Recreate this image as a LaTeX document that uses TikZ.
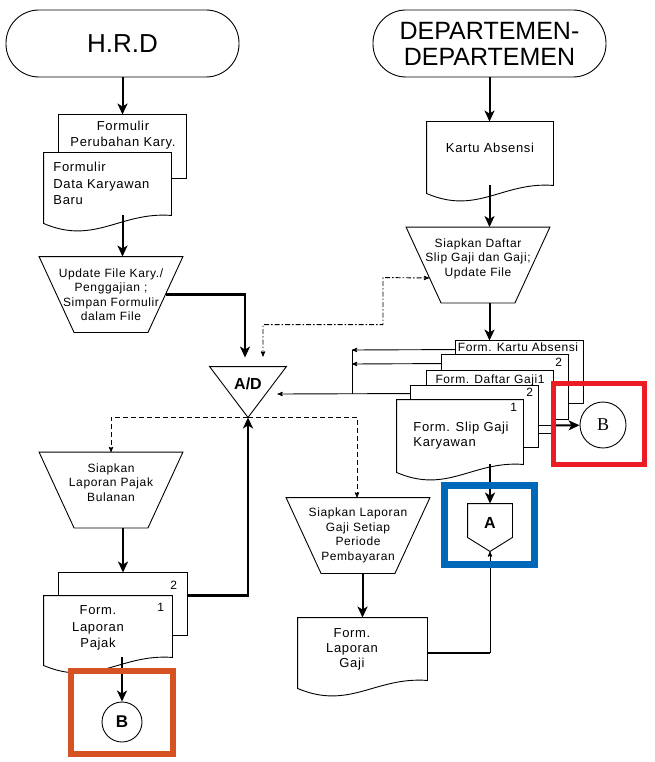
\documentclass[tikz,border=0pt]{standalone}
\usepackage{fontspec}
\setmainfont{Liberation Sans}
\newfontfamily\flowsans{Liberation Sans}[LetterSpace=5]
\newfontfamily\timesfont{Liberation Serif}
\usepackage{tikz}
\usetikzlibrary{arrows,arrows.meta,calc,positioning}
\usepackage{xcolor}
\definecolor{markred}{RGB}{236,28,36}
\definecolor{markblue}{RGB}{0,104,185}
\definecolor{markorange}{RGB}{214,82,34}

\newcommand{\docfont}[1]{\flowsans\fontsize{13}{#1}\selectfont}
\newcommand{\docrect}[1]{\draw[fill=white] (#1.north west) rectangle (#1.south east);}
\newcommand{\docwave}[1]{\draw[fill=white] (#1.south east) -- (#1.north east) -- (#1.north west)
  -- ($(#1.south west)+(0,8)$) .. controls ($(#1.south west)!0.4!(#1.south east)+(0,30)$)
  and ($(#1.south east)!0.4!(#1.south west)+(0,-4)$) .. (#1.south east) -- cycle;}
\newcommand{\trapshape}[1]{\draw (#1.north west) -- (#1.north east) -- ([xshift=-35pt]#1.south east)
  -- ([xshift=35pt]#1.south west) -- cycle;}
\newcommand{\mergeshape}[1]{\draw (#1.north west) -- (#1.north east) -- (#1.south) -- cycle;}
\newcommand{\offpageshape}[1]{\draw (#1.north west) -- (#1.north east) -- ([yshift=14pt]#1.south east)
  -- (#1.south) -- ([yshift=14pt]#1.south west) -- cycle;}

\begin{document}
\begin{tikzpicture}[x=1pt,y=-1pt,>=stealth',line width=0.9pt]
\tikzset{
    term/.style={%
        draw,
        rectangle,
        rounded corners=33pt,
        minimum height=67pt,
        minimum width=233pt,
        inner sep=0pt
        },
    proc/.style={%
        rectangle,
        minimum height=75pt,
        minimum width=143pt,
        text width=130pt,
        inner sep=0pt,
        align=center,
        font=\flowsans\fontsize{12}{14.5}\selectfont
        },
    docbox/.style={%
        rectangle,
        inner sep=0pt,
        minimum height=62pt,
        minimum width=127pt
        },
    txt/.style={inner sep=0pt, align=center, font=\docfont{16.5}},
    num/.style={inner sep=0pt, font=\flowsans\fontsize{12}{14}\selectfont},
    flow/.style={-{Stealth[length=11pt,width=10pt,inset=3pt]}, line width=2pt},
    link/.style={->, line width=0.9pt},
    dashdot/.style={dash pattern=on 5pt off 2pt on 1.5pt off 2pt},
}
\fill[white] (0,0) rectangle (654,762);
%%%TERMINATORS
\node[term, font=\fontsize{26}{30}\selectfont] (hrd) at (122.5,43.5) {H.R.D};
\node[term, align=center, font=\fontsize{25}{26}\selectfont] (dept) at (489.5,43.5) {DEPARTEMEN-\\DEPARTEMEN};
%%%PROCESSES
\node[proc] (upd) at (111,294.5) {Update File Kary./\\Penggajian ;\\Simpan Formulir\\dalam File};
\node[proc, text depth=44pt] (sdg) at (478,265) {Siapkan Daftar\\Slip Gaji dan Gaji;\\Update File};
\node[proc, text depth=44pt] (spb) at (111,490) {Siapkan\\Laporan Pajak\\Bulanan};
\node[proc] (slg) at (358,535.5) {Siapkan Laporan\\Gaji Setiap\\Periode\\Pembayaran};
\trapshape{upd}
\trapshape{sdg}
\trapshape{spb}
\trapshape{slg}
\node[rectangle, inner sep=4pt, minimum width=76pt, minimum height=50pt, text height=18pt,
  text depth=24pt, font=\bfseries\fontsize{16}{18}\selectfont] (ad) at (248,392) {A/D};
\mergeshape{ad}
\node[rectangle, inner sep=0pt, minimum width=44pt, minimum height=47pt, text height=24pt,
  text depth=23pt, font=\bfseries\fontsize{16}{18}\selectfont] (ca) at (490,527.5) {A};
\offpageshape{ca}
\node[draw, circle, minimum size=40pt, inner sep=0pt, font=\bfseries\fontsize{17}{20}\selectfont] (bl) at (122,722) {B};
\node[draw, circle, minimum size=46pt, inner sep=0pt, font=\timesfont\fontsize{18}{20}\selectfont] (br) at (603,425) {B};
%%%DOCUMENTS
\node[docbox, minimum height=63pt] (fpk) at (122.5,146.5) {};
\node[docbox] (fdk) at (107.5,184) {};
\node[docbox, minimum width=128pt] (flp2) at (123,604) {};
\node[docbox, minimum width=128pt, minimum height=61pt] (flp) at (108,626.5) {};
\node[docbox, minimum width=126pt, minimum height=63pt] (ka) at (490,153.5) {};
\node[docbox] (fka) at (519.5,372) {};
\node[docbox, minimum width=126pt, minimum height=64pt] (fka2) at (505,387) {};
\node[docbox, minimum width=126pt] (fdg) at (490,402) {};
\node[docbox, minimum height=61pt] (fdg2) at (474.5,416.5) {};
\node[docbox, minimum width=126pt, minimum height=64pt] (fsg) at (460,432) {};
\node[docbox, minimum width=129pt] (flg) at (362.5,649) {};
\docrect{fpk}
\docwave{fdk}
\docrect{flp2}
\docwave{flp}
\docwave{ka}
\docrect{fka}
\docrect{fka2}
\docrect{fdg}
\docrect{fdg2}
\docwave{fsg}
\docwave{flg}
\node[txt, font=\docfont{16}] (fpk-t) at (123,135) {Formulir\\Perubahan Kary.};
\node[txt, align=left, anchor=west] (fdk-t) at (53,183.5) {Formulir\\Data Karyawan\\Baru};
\node[txt] (flp-t) at (98,628) {Form.\\Laporan\\Pajak};
\node[txt] (ka-t) at (490,148) {Kartu Absensi};
\node[txt, font=\flowsans\fontsize{12}{14}\selectfont] (fka-t) at (518,347) {Form. Kartu Absensi};
\node[txt, font=\flowsans\fontsize{12}{14}\selectfont] (fdg-t) at (490,380) {Form. Daftar Gaji1};
\node[txt, align=left, anchor=west, font=\docfont{15}] (fsg-t) at (413,435.5) {Form. Slip Gaji\\Karyawan};
\node[txt, font=\docfont{15}] (flg-t) at (352,649) {Form.\\Laporan\\Gaji};
\node[num, below left=8pt and 10pt of flp2.north east] (flp2-n) {2};
\node[num, below left=7pt and 8pt of flp.north east] (flp-n) {1};
\node[num, below left=3pt and 6pt of fka2.north east] (fka2-n) {2};
\node[num, below left=2pt and 5pt of fdg2.north east] (fdg2-n) {2};
\node[num, below left=3pt and 6pt of fsg.north east] (fsg-n) {1};
%%%FLOWS LEFT
\draw[flow] (hrd) -- (fpk);
\draw[flow] (fdk.south -| fpk) -- (fpk |- upd.north);
\draw[flow, line width=2.5pt, shorten >=9pt] ([xshift=-17pt]upd.east) -| ([xshift=-3pt]ad.north);
\draw[link, dash pattern=on 5pt off 3pt] (ad.south) -| (spb.north);
\draw[link, dash pattern=on 5pt off 3pt] (ad.south) -| ([xshift=-1pt]slg.north);
\draw[flow] (spb.south -| flp2) -- (flp2.north);
\draw[flow, line width=2.5pt] ([yshift=-23pt]flp2.north east) -| (ad.south);
\draw[flow] (flp.south -| bl) -- (bl.north);
%%%FLOWS RIGHT
\draw[flow] (dept.south) -- (dept.south |- ka.north);
\draw[flow] (ka.south -| dept) -- (dept |- sdg.north);
\draw[flow] (sdg.south -| dept) -- (dept |- fka.north);
\draw[link, dashdot, <->, shorten <=10pt] ([xshift=15pt]ad.north) -- ++(0,-42) -| ++(120,-47)
  -- ([xshift=23pt,yshift=-13pt]sdg.west);
\coordinate (j1) at (352,350);
\coordinate (j2) at (352,364);
\coordinate (j3) at (352,394);
\draw[link] ([yshift=-9pt]fka.north west) -- (j1);
\draw[link] ([yshift=-9pt]fka2.north west) -- (j2);
\draw (j1) -- (j3);
\draw[link] ([yshift=-8pt]fdg2.north west) -- ([xshift=-9pt]ad.east |- j3);
\draw ([yshift=-9pt]fdg2.east) -- ++(15,0) coordinate (bk);
\draw[flow] (bk) -- (br);
\draw[flow] (fsg.south -| ca) -- (ca.north);
\draw[line width=2.5pt] ([yshift=-4pt]flg.east) -- ([yshift=-4pt]flg.east -| ca);
\draw[link] ([yshift=-4pt]flg.east -| ca) -- (ca.south);
\draw[flow] (slg.south -| flg) -- (flg.north);
%%%MARKS
\draw[markorange, line width=6pt] (71,671) rectangle (172.5,754);
\draw[markred, line width=5pt] (553,383.5) rectangle (644,464.5);
\draw[markblue, line width=7pt] (444.5,485.5) rectangle (534.5,564.5);
\end{tikzpicture}
\end{document}
